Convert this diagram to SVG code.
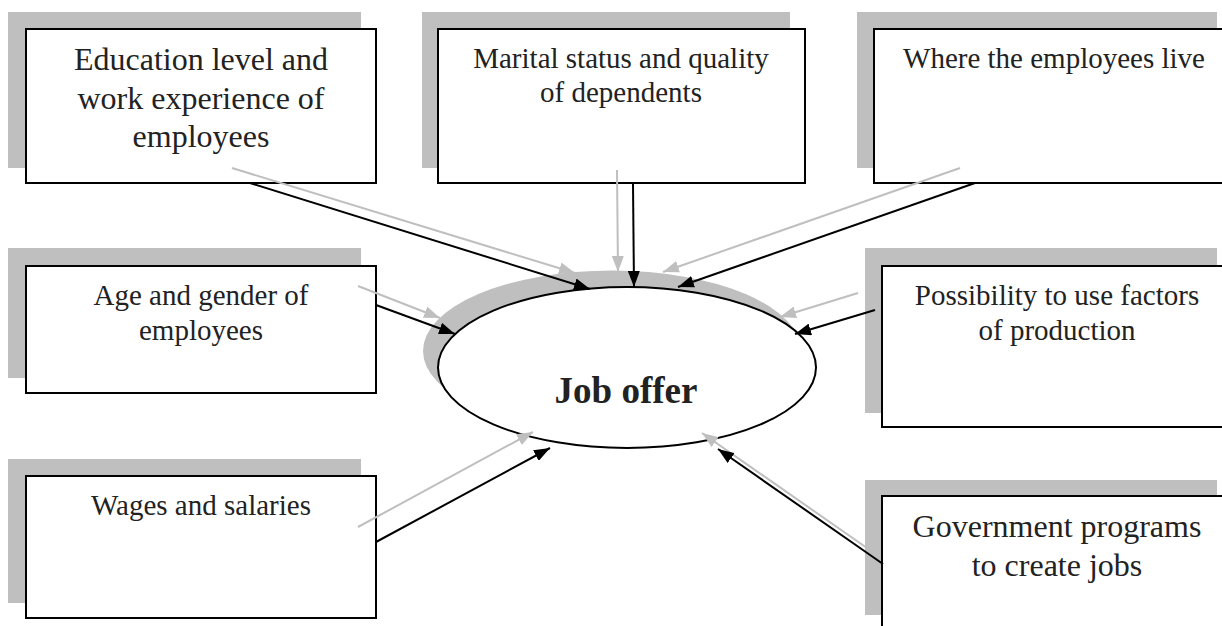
<svg xmlns="http://www.w3.org/2000/svg" width="1222" height="626" viewBox="0 0 1222 626">
<style>
.sh{fill:#bfbfbf}
.bx{fill:#fff;stroke:#000;stroke-width:2}
.t{font-family:"Liberation Serif","Times New Roman",serif;fill:#222;text-anchor:middle}
.c{fill:none;stroke:#000;stroke-width:2}
.g{fill:none;stroke:#bfbfbf;stroke-width:2}
</style>
<defs>
<marker id="ab" viewBox="0 0 16 12" refX="16" refY="6" markerWidth="16" markerHeight="12" markerUnits="userSpaceOnUse" orient="auto"><path d="M0,0 L16,6 L0,12 z" fill="#000"/></marker>
<marker id="ag" viewBox="0 0 16 12" refX="16" refY="6" markerWidth="16" markerHeight="12" markerUnits="userSpaceOnUse" orient="auto"><path d="M0,0 L16,6 L0,12 z" fill="#bfbfbf"/></marker>
</defs>
<rect width="1222" height="626" fill="#fff"/>
<g id="education">
<rect class="sh" x="8" y="12" width="353" height="156"/>
<rect class="bx" x="26" y="29" width="350" height="154"/>
<text class="t" font-size="32" x="201" y="70">Education level and</text>
<text class="t" font-size="32" x="201" y="109">work experience of</text>
<text class="t" font-size="32" x="201" y="147">employees</text>
</g>
<g id="marital">
<rect class="sh" x="422" y="12" width="368" height="156"/>
<rect class="bx" x="438" y="29" width="367" height="154"/>
<text class="t" font-size="29" x="621" y="68">Marital status and quality</text>
<text class="t" font-size="29" x="621" y="102">of dependents</text>
</g>
<g id="where">
<rect class="sh" x="857" y="12" width="360" height="156"/>
<rect class="bx" x="874" y="29" width="360" height="154"/>
<text class="t" font-size="29" x="1054" y="68">Where the employees live</text>
</g>
<g id="age">
<rect class="sh" x="8" y="248" width="353" height="130"/>
<rect class="bx" x="26" y="266" width="350" height="127"/>
<text class="t" font-size="29" x="201" y="305">Age and gender of</text>
<text class="t" font-size="29" x="201" y="340">employees</text>
</g>
<g id="possibility">
<rect class="sh" x="865" y="248" width="352" height="165"/>
<rect class="bx" x="882" y="266" width="352" height="161"/>
<text class="t" font-size="29" x="1057" y="305">Possibility to use factors</text>
<text class="t" font-size="29" x="1057" y="340">of production</text>
</g>
<g id="wages">
<rect class="sh" x="8" y="459" width="353" height="144"/>
<rect class="bx" x="26" y="476" width="350" height="142"/>
<text class="t" font-size="29" x="201" y="515">Wages and salaries</text>
</g>
<g id="government">
<rect class="sh" x="865" y="480" width="352" height="135"/>
<rect class="bx" x="882" y="496" width="352" height="150"/>
<text class="t" font-size="32" x="1057" y="537">Government programs</text>
<text class="t" font-size="32" x="1057" y="576">to create jobs</text>
</g>
<g id="job-offer">
<ellipse cx="612" cy="351" rx="189" ry="80.5" fill="#bfbfbf"/>
<ellipse cx="627" cy="367.5" rx="189" ry="80.5" fill="#fff" stroke="#000" stroke-width="2"/>
<text class="t" font-size="37" font-weight="bold" x="626" y="403">Job offer</text>
</g>
<g id="connectors">
<line class="g" x1="232" y1="168" x2="575" y2="273" marker-end="url(#ag)"/>
<line class="c" x1="250" y1="183" x2="590" y2="289" marker-end="url(#ab)"/>
<line class="g" x1="617" y1="170" x2="618" y2="272" marker-end="url(#ag)"/>
<line class="c" x1="633" y1="184" x2="634" y2="287" marker-end="url(#ab)"/>
<line class="g" x1="960" y1="168" x2="663" y2="272" marker-end="url(#ag)"/>
<line class="c" x1="975" y1="183" x2="678" y2="287" marker-end="url(#ab)"/>
<line class="g" x1="358" y1="286" x2="440" y2="318" marker-end="url(#ag)"/>
<line class="c" x1="376" y1="305" x2="455" y2="334" marker-end="url(#ab)"/>
<line class="g" x1="858" y1="293" x2="780" y2="317" marker-end="url(#ag)"/>
<line class="c" x1="875" y1="310" x2="795" y2="334" marker-end="url(#ab)"/>
<line class="g" x1="358" y1="527" x2="533" y2="432" marker-end="url(#ag)"/>
<line class="c" x1="376" y1="542" x2="550" y2="448" marker-end="url(#ab)"/>
<line class="g" x1="867" y1="548" x2="702" y2="433" marker-end="url(#ag)"/>
<line class="c" x1="883" y1="564" x2="718" y2="449" marker-end="url(#ab)"/>
</g>
</svg>
